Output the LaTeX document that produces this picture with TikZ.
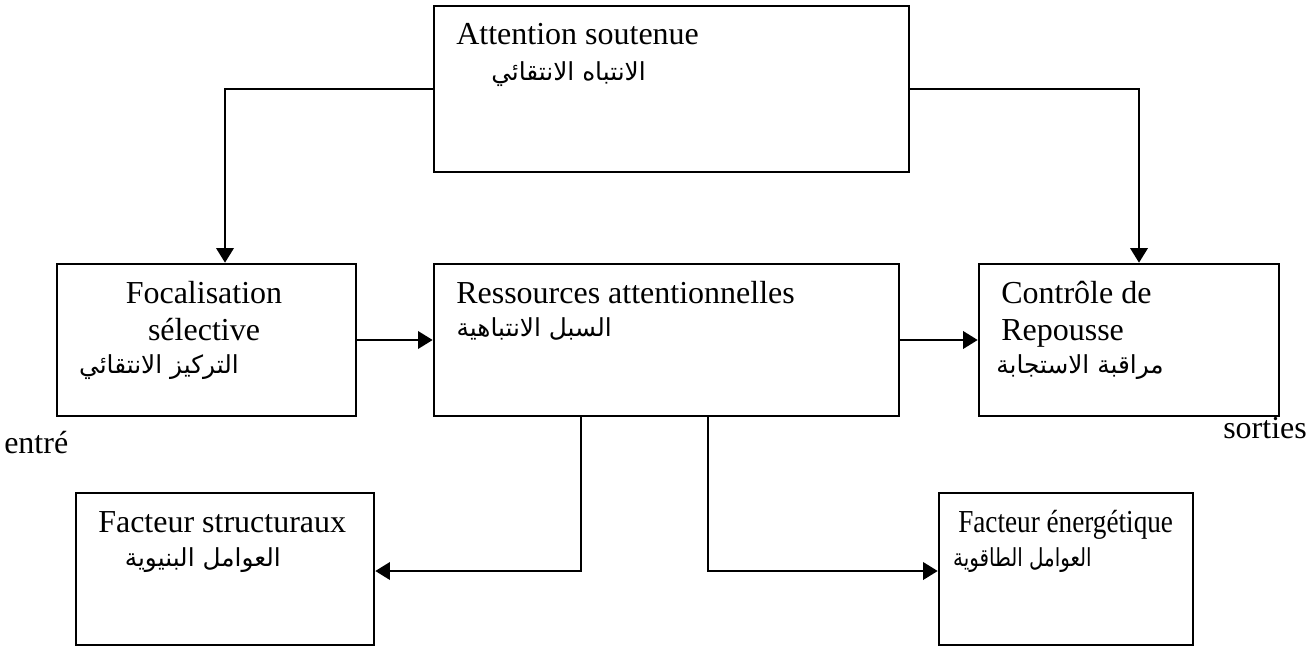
\documentclass[tikz,border=0pt]{standalone}
\usepackage{fontspec}
\setmainfont{Liberation Serif}
\newfontfamily\arabicfont[Script=Arabic]{DejaVu Sans}
\TeXXeTstate=1
\usepackage{tikz}
\usetikzlibrary{arrows.meta, positioning, calc}

\begin{document}
\begin{tikzpicture}[x=0.375pt, y=0.375pt, line width=0.95pt,
    box/.style={draw, rectangle, inner sep=0pt},
    txt/.style={inner sep=0pt, font=\fontsize{12}{14}\selectfont},
    artxt/.style={inner sep=0pt, anchor=base east, font=\arabicfont\fontsize{9.3}{14}\selectfont},
    arr/.style={-{Triangle[length=5.5pt, width=6.5pt]}}]
    \useasboundingbox (0,0) rectangle (1315,-648);

    % Top box
    \node (sout) [box, minimum width=178.1pt, minimum height=62.25pt] at (671.5,-89) {};
    \node (sout_fr) [txt, anchor=base west] at (455,-45) {Attention soutenue};
    \node (sout_ar) [artxt] at (647,-81) {\beginR الانتباه الانتقائي\endR};

    % Middle row
    \node (focal) [box, minimum width=112.1pt, minimum height=57pt] at (206.5,-340) {};
    \node (focal_fr1) [txt, anchor=base] at (204,-303) {Focalisation};
    \node (focal_fr2) [txt, anchor=base] at (204,-340) {sélective};
    \node (focal_ar) [artxt] at (240,-373) {\beginR التركيز الانتقائي\endR};

    \node (res) [box, minimum width=174.4pt, minimum height=57pt] at (666.5,-340) {};
    \node (res_fr) [txt, anchor=base west] at (455,-303) {Ressources attentionnelles};
    \node (res_ar) [artxt] at (613,-336) {\beginR السبل الانتباهية\endR};

    \node (ctrl) [box, minimum width=112.5pt, minimum height=57pt] at (1129,-340) {};
    \node (ctrl_fr1) [txt, anchor=base west] at (1000,-303) {Contrôle de};
    \node (ctrl_fr2) [txt, anchor=base west] at (1000,-340) {Repousse};
    \node (ctrl_ar) [artxt] at (1165,-373) {\beginR مراقبة الاستجابة\endR};

    \node (entre) [txt, anchor=base west] at (3,-453) {entré};
    \node (sorties) [txt, anchor=base west] at (1222,-438) {sorties};

    % Bottom row
    \node (struct) [box, minimum width=111.75pt, minimum height=57pt] at (225,-569) {};
    \node (struct_fr) [txt, anchor=base west] at (97,-532) {Facteur structuraux};
    \node (struct_ar) [artxt] at (282,-566) {\beginR العوامل البنيوية\endR};

    \node (energ) [box, minimum width=95.25pt, minimum height=57pt] at (1066,-569) {};
    \node (energ_fr) [txt, anchor=base west] at (957,-532) {\scalebox{0.85}[1]{Facteur énergétique}};
    \node (energ_ar) [artxt] at (1093,-566) {\scalebox{0.8}[1]{\beginR العوامل الطاقوية\endR}};

    % Connectors
    \draw[arr] (sout.west) -| ($(focal.north)+(18.5,0)$);
    \draw[arr] (sout.east) -| ($(ctrl.north)+(10,0)$);
    \draw[arr] (focal.east) -- (res.west);
    \draw[arr] (res.east) -- (ctrl.west);
    \draw[arr] ($(res.south)+(-85.5,0)$) |- ($(struct.east)+(0,-2)$);
    \draw[arr] ($(res.south)+(41.5,0)$) |- ($(energ.west)+(0,-2)$);
\end{tikzpicture}
\end{document}
